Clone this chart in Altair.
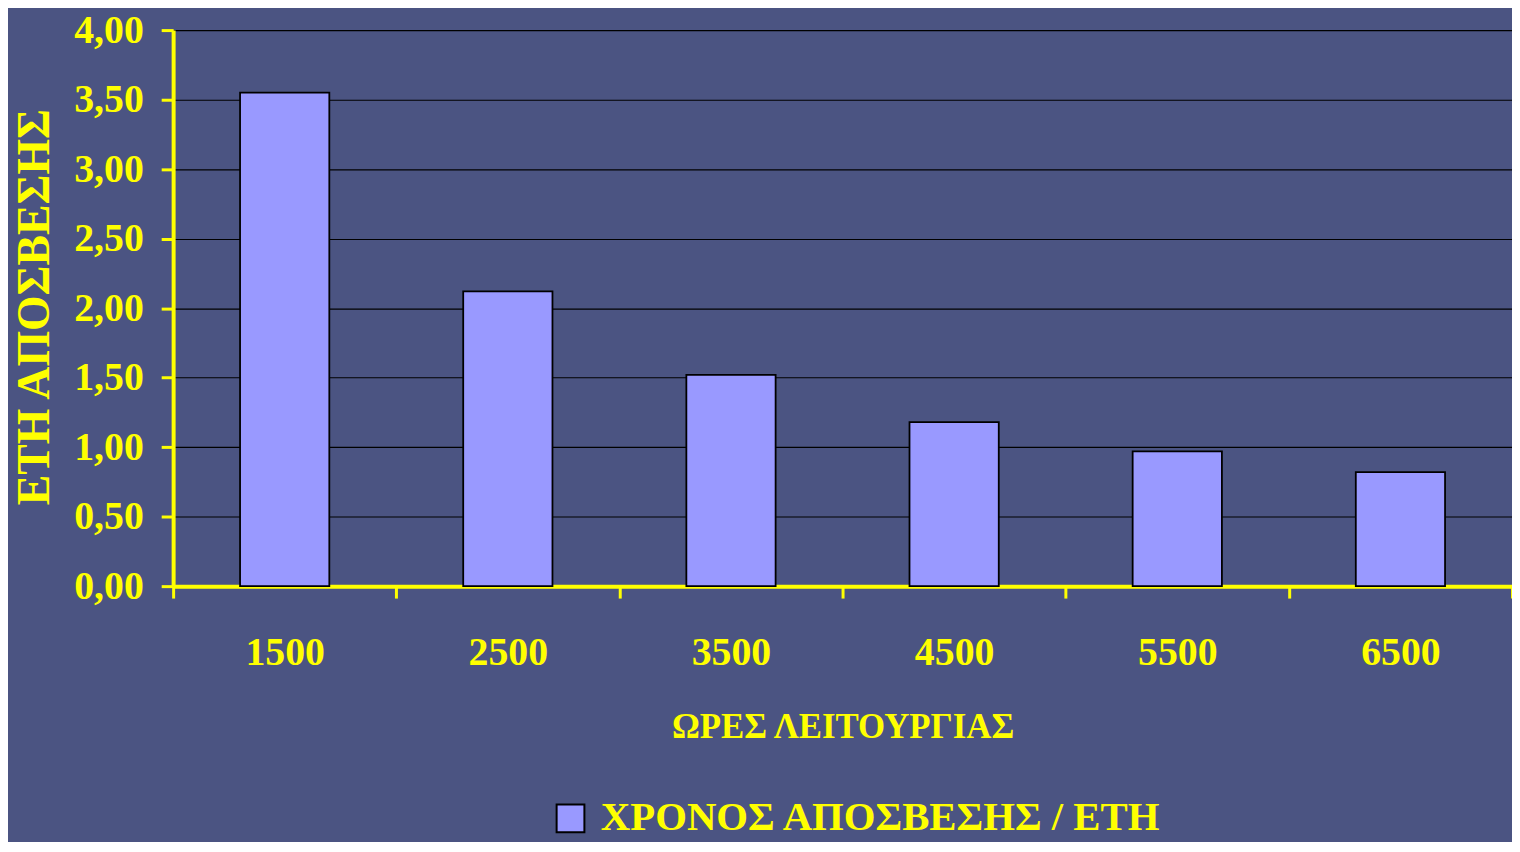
import altair as alt
import pandas as pd

hours = ["1500", "2500", "3500", "4500", "5500", "6500"]
years = [3.55, 2.12, 1.52, 1.18, 0.97, 0.82]
series_name = "ΧΡΟΝΟΣ ΑΠΟΣΒΕΣΗΣ / ΕΤΗ"
y_ticks = [0, 0.5, 1.0, 1.5, 2.0, 2.5, 3.0, 3.5, 4.0]

df = pd.DataFrame({"hours": hours, "years": years, "series": [series_name] * len(hours)})

FONT = "Liberation Serif"
YELLOW = "#FFFF00"
BG = "#4B5482"

chart = alt.Chart(df).mark_bar(stroke="black", strokeWidth=1.8,
                               width=alt.RelativeBandSize(0.4)).encode(
    x=alt.X("hours:N", sort=hours,
            scale=alt.Scale(paddingInner=0, paddingOuter=0),
            axis=alt.Axis(title="ΩΡΕΣ ΛΕΙΤΟΥΡΓΙΑΣ", labelAngle=0,
                          domainColor=YELLOW, domainWidth=4,
                          tickColor=YELLOW, tickWidth=3, tickSize=12, tickBand="extent",
                          labelColor=YELLOW, labelFont=FONT, labelFontSize=40,
                          labelFontWeight="bold", labelPadding=35,
                          titleColor=YELLOW, titleFont=FONT, titleFontSize=35,
                          titleFontWeight="bold", titleY=141, titleBaseline="middle",
                          grid=False)),
    y=alt.Y("years:Q",
            scale=alt.Scale(domain=[0, 4], nice=False),
            axis=alt.Axis(title="ΕΤΗ ΑΠΟΣΒΕΣΗΣ", values=y_ticks,
                          labelExpr="replace(format(datum.value, '.2f'), '.', ',')",
                          domainColor=YELLOW, domainWidth=4,
                          tickColor=YELLOW, tickWidth=3, tickSize=12,
                          labelColor=YELLOW, labelFont=FONT, labelFontSize=40,
                          labelFontWeight="bold", labelPadding=18,
                          titleColor=YELLOW, titleFont=FONT, titleFontSize=46,
                          titleFontWeight="bold", titleX=-139, titleY=278,
                          titleAlign="center", titleBaseline="middle", titleAngle=270,
                          grid=True, gridColor="black", gridWidth=1.2, gridOpacity=1)),
    color=alt.Color("series:N",
                    scale=alt.Scale(range=["#9999FF"]),
                    legend=alt.Legend(title=None, orient="none", legendX=379, legendY=772,
                                      symbolType="square", symbolSize=780,
                                      symbolStrokeColor="black", symbolStrokeWidth=2,
                                      labelColor=YELLOW, labelFont=FONT, labelFontSize=41,
                                      labelFontWeight="bold", labelLimit=1000,
                                      labelOffset=10, padding=0)),
).properties(
    width=1346, height=559,
    background=BG,
    padding={"left": 166, "top": 20, "right": 0, "bottom": 255},
    autosize=alt.AutoSizeParams(type="none"),
).configure_view(stroke=None)

chart.save("out.html", embed_options={"renderer": "svg", "actions": False})
